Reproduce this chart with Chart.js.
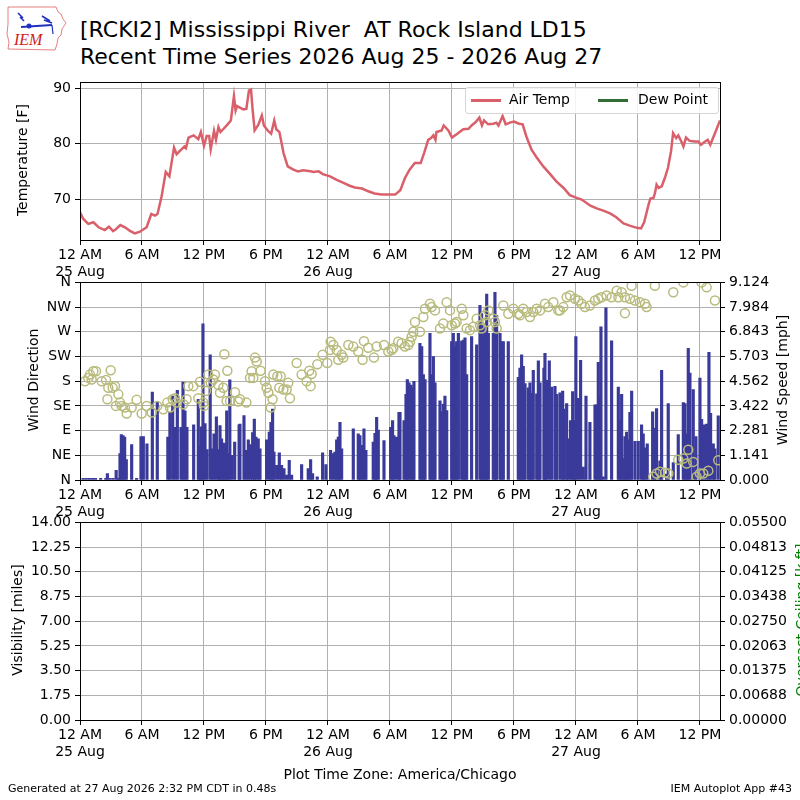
<!DOCTYPE html>
<html>
<head>
<meta charset="utf-8">
<script src="https://cdn.jsdelivr.net/npm/chart.js@4.4.0/dist/chart.umd.min.js"></script>
<style>
  body { margin:0; width:800px; height:800px; overflow:hidden; background:#fff; position:relative;
         font-family:'DejaVu Sans', sans-serif; color:#000; }
  canvas { position:absolute; left:0; }
  .t { position:absolute; white-space:pre; }
  .vt { position:absolute; white-space:nowrap; font-size:14px; transform:translate(-50%,-50%) rotate(-90deg); }
  .legend { position:absolute; left:465px; top:87px; width:252px; height:25px; border:1px solid #d6d6d6;
            border-radius:3px; background:rgba(255,255,255,0.85); font-size:14px; }
  .legend span.ln { position:absolute; top:11px; width:30px; height:3px; }
  .legend span.lb { position:absolute; top:3px; }
</style>
</head>
<body>

<svg style="position:absolute;left:6px;top:4px" width="62" height="48" viewBox="0 0 62 48">
  <path d="M2 3 L50 3 L52 8 L55 10 L57 15 L60 19 L56 25 L55 31 L52 34 L51 40 L49 46 L2 45 L3 38 L1 30 L2 20 Z"
        fill="none" stroke="#e06060" stroke-width="0.8"/>
  <line x1="15" y1="23" x2="46" y2="21" stroke="#2030c0" stroke-width="2"/>
  <path d="M12 9 L17 14 M14 13 L18 17 M36 12 L44 17 M38 16 L46 19" stroke="#2030c0" stroke-width="1.6"/>
  <circle cx="23" cy="22" r="2.5" fill="#2030c0"/>
  <line x1="46" y1="21" x2="47" y2="30" stroke="#2030c0" stroke-width="1.2"/>
  <text x="8" y="41" font-family="Liberation Serif" font-style="italic" font-size="16" fill="#d02020">IEM</text>
</svg>

<div class="t" style="left:80px;top:16px;font-size:22px;line-height:27px">[RCKI2] Mississippi River  AT Rock Island LD15
Recent Time Series 2026 Aug 25 - 2026 Aug 27</div>

<canvas id="tempChart" width="800" height="210" style="top:70px"></canvas>
<canvas id="windChart" width="800" height="250" style="top:270px"></canvas>
<canvas id="visChart" width="800" height="250" style="top:510px"></canvas>

<div class="legend">
  <span class="ln" style="left:5px;background:#d9606a"></span>
  <span class="lb" style="left:43px">Air Temp</span>
  <span class="ln" style="left:132px;background:#336d33"></span>
  <span class="lb" style="left:172px">Dew Point</span>
</div>

<div class="vt" style="left:22px;top:160px">Temperature [F]</div>
<div class="vt" style="left:33px;top:380px">Wind Direction</div>
<div class="vt" style="left:782px;top:380px">Wind Speed [mph]</div>
<div class="vt" style="left:17px;top:620px">Visibility [miles]</div>
<div class="vt" style="left:801px;top:620px;color:#008000">Overcast Ceiling [k ft]</div>

<div class="t" style="left:0;width:800px;text-align:center;top:766px;font-size:14px">Plot Time Zone: America/Chicago</div>
<div class="t" style="left:8px;top:782px;font-size:11px">Generated at 27 Aug 2026 2:32 PM CDT in 0.48s</div>
<div class="t" style="right:8px;top:782px;font-size:11px">IEM Autoplot App #43</div>

<script>
// hours since 25 Aug 12 AM
const xEnd = 61.94;
const xTickHours = [0, 6, 12, 18, 24, 30, 36, 42, 48, 54, 60];
const dayStartHours = [0, 24, 48];
const dayNames = ['25 Aug', '26 Aug', '27 Aug'];

// air temperature [F]
const tempHours = [0,0.32,0.8,1.3,1.8,2.4,2.8,3.2,3.5,3.9,4.35,4.8,5.3,5.8,6.45,6.9,7.25,7.5,7.9,8.3,8.65,9.1,9.35,10.1,10.25,10.5,11.0,11.45,11.7,12.0,12.26,12.5,12.65,12.97,13.16,13.4,13.6,13.9,14.2,14.6,14.9,15.06,15.2,15.8,16.1,16.35,16.55,16.7,16.9,17.25,17.6,17.8,18.2,18.5,18.8,19.0,19.3,19.7,20.1,20.65,21.1,21.6,22.3,22.6,23.1,23.5,24.2,24.8,25.5,26.1,26.6,27.3,27.9,28.5,29.2,29.8,30.5,31.0,31.45,31.9,32.4,32.97,33.3,33.7,33.97,34.2,34.4,34.5,35.0,35.2,35.65,36.0,36.45,37.1,37.6,37.9,38.3,38.65,38.9,39.1,39.5,40.0,40.3,40.5,40.9,41.2,41.6,42.0,42.5,42.84,43.2,43.7,44.2,44.84,45.5,46.1,46.8,47.4,48.07,48.55,49.4,50.0,50.65,51.3,51.9,52.6,53.2,53.9,54.3,54.6,55.0,55.2,55.5,55.65,55.8,56.0,56.3,56.6,56.9,57.2,57.4,57.7,57.9,58.2,58.4,58.65,59.0,59.5,59.84,60.1,60.5,60.75,61.0,61.5,61.94];
const tempValues = [67.6,66.4,65.5,65.8,64.9,64.4,65.0,64.2,64.6,65.3,64.9,64.3,63.8,64.1,64.9,67.3,67.0,67.3,70.5,74.9,74.1,79.3,78.1,79.5,79.2,81.1,81.5,80.8,82.1,79.6,81.4,81.4,79.0,82.3,80.7,83.0,82.1,82.7,83.3,84.2,88.6,86.0,86.8,86.2,86.3,89.6,89.8,86.3,82.4,83.4,85.1,83.3,82.3,81.8,84.2,82.6,82.1,78.3,75.9,75.3,75.0,75.2,75.0,74.9,75.0,74.5,74.1,73.5,72.9,72.4,72.1,71.9,71.4,71.0,70.8,70.8,70.8,71.6,73.8,75.3,76.5,76.5,78.3,80.7,81.0,81.5,80.7,82.1,82.4,83.3,82.4,81.1,81.7,82.6,82.7,83.3,83.9,84.7,83.3,84.2,83.5,83.6,83.8,83.3,85.0,83.5,83.8,84.0,83.6,83.5,81.3,78.9,77.5,75.9,74.5,73.2,72.0,70.7,70.2,69.9,68.8,68.3,67.9,67.4,66.7,65.6,65.2,64.8,64.7,65.8,68.8,70.1,70.2,71.1,72.6,72.0,72.3,73.8,75.6,78.6,81.9,81.0,81.5,80.4,79.5,81.1,80.5,80.4,80.4,79.8,80.4,80.7,79.8,82.1,84.2];
const tempTicks = [70, 80, 90];

// wind speed [mph]
const windHours = [0.3,0.6,0.9,1.2,1.5,2.0,2.5,2.65,2.9,3.2,3.5,3.7,3.87,4.0,4.16,4.32,4.48,5.0,5.48,5.9,6.13,6.48,7.0,7.48,8.5,8.7,8.97,9.2,9.42,9.77,9.97,10.16,10.35,11.0,11.45,11.6,11.74,11.9,12.1,12.3,12.6,12.8,12.97,13.2,13.4,13.55,13.7,13.87,14.0,14.2,14.3,14.5,14.7,14.97,15.4,
  15.48,15.87,16.06,16.29,16.5,16.71,16.87,17.03,17.25,17.42,18.06,18.32,18.48,18.64,18.77,19.03,19.29,19.51,19.74,20.0,20.25,20.48,21.45,22.09,22.32,22.51,22.96,23.48,23.8,24.25,24.45,24.67,24.84,25.0,25.16,25.32,26.45,26.93,27.09,27.29,27.48,27.67,28.38,28.55,28.71,28.87,29.42,30.06,30.25,30.38,30.64,30.87,
  30.97,31.36,31.55,31.68,31.84,32.03,32.2,32.32,32.9,33.07,33.23,33.39,33.87,34.03,34.2,34.36,34.84,35.0,35.16,35.32,35.49,35.97,36.13,36.29,36.45,36.62,36.94,37.1,37.26,37.42,37.9,38.39,38.71,38.87,39.03,39.2,39.36,39.52,40.0,40.16,40.32,40.65,40.81,40.97,41.45,42.42,42.58,42.74,42.9,43.07,43.39,43.55,43.71,43.87,44.2,44.36,44.52,44.9,45.0,45.16,45.42,45.65,45.97,46.13,
  46.45,46.71,46.84,47.1,47.26,47.48,47.68,47.8,47.99,48.22,48.45,48.71,48.97,49.35,49.84,50.0,50.16,50.32,50.42,50.64,50.9,51.45,52.1,52.26,52.42,52.58,52.74,52.9,53.06,53.22,53.39,53.71,54.03,54.35,54.51,54.68,54.9,55.42,55.64,55.8,56.13,56.29,56.77,56.93,57.42,57.9,58.39,58.55,58.71,58.87,59.03,59.35,59.61,60.0,60.16,60.39,60.64,60.87,61.03,61.29,61.45,61.77];
const windSpeeds = [0.08,0.08,0.08,0.08,0.08,0.08,0.08,0.3,0.08,0.08,0.45,0.08,1.22,2.1,2.05,1.98,0.94,1.64,0.08,2.0,2.0,1.67,4.06,3.6,1.98,3.12,3.88,2.43,4.14,2.43,4.52,3.19,2.43,2.55,3.73,1.57,2.46,7.21,2.61,1.4,5.78,1.44,2.13,2.92,1.4,2.51,1.9,1.7,1.67,3.19,1.22,4.62,1.14,1.75,2.55,
  2.58,2.97,1.37,1.86,1.64,2.19,2.81,1.98,1.9,1.44,1.86,2.21,2.66,3.27,1.29,0.68,1.25,0.68,0.53,0.23,0.91,0.23,0.71,0.53,0.94,0.3,0.15,1.25,0.71,1.37,1.22,1.29,1.86,1.98,2.66,1.44,2.36,2.13,2.05,1.6,2.36,1.37,1.75,2.16,2.89,2.31,1.82,2.43,2.74,2.05,1.98,3.12,
  3.12,2.74,3.95,4.64,4.49,4.38,4.26,4.56,6.31,6.16,4.87,4.64,6.77,4.87,5.7,4.49,3.65,3.16,3.5,3.88,3.2,6.39,6.77,6.16,6.39,6.77,6.42,6.46,6.57,4.87,6.62,6.24,8.06,7.68,7.15,6.77,8.58,6.77,6.77,8.67,7.6,6.77,6.39,6.39,6.39,4.74,5.17,5.78,5.25,4.45,4.26,4.49,4.0,5.06,3.98,5.5,4.49,5.17,5.85,4.6,5.5,4.29,4.33,3.95,
  4.03,4.11,3.27,3.53,1.9,2.74,4.08,2.74,6.62,3.77,5.52,0.6,3.88,2.66,3.47,3.47,5.43,3.8,7.07,0.15,7.95,6.43,4.29,2.74,3.95,0.99,2.0,2.21,1.86,3.12,4.11,1.78,1.78,2.55,2.13,1.48,1.67,3.15,2.4,3.3,0.88,5.06,0.27,3.53,0.81,2.1,3.57,3.53,2.13,6.08,4.94,4.18,2.01,4.71,2.8,2.55,2.58,5.9,3.08,1.67,1.44,2.96];
const speedTicks = [0, 1.141, 2.281, 3.422, 4.562, 5.703, 6.843, 7.984, 9.124];

// wind direction [deg]
const dirHours = [0.48,0.8,0.97,1.13,1.29,1.55,2.1,2.52,2.65,2.74,2.97,3.16,3.39,3.48,3.71,3.87,4.03,4.35,4.52,5.0,5.48,5.97,6.45,6.94,7.48,8.06,8.45,8.71,8.97,9.19,9.35,10.0,10.32,10.48,10.97,11.45,11.61,11.94,12.0,12.19,12.42,12.65,12.9,13.06,13.39,13.55,13.87,13.97,14.19,14.26,14.52,15.0,15.32,
  15.48,16.1,16.45,16.61,16.77,16.94,17.1,17.48,17.9,18.06,18.23,18.45,18.64,18.71,19.1,19.29,19.42,19.68,20.0,20.16,20.32,20.97,21.45,21.93,22.19,22.32,22.42,22.97,23.48,23.93,24.19,24.26,24.52,24.84,25.0,25.32,25.48,25.97,26.45,26.93,27.35,27.48,27.9,28.45,28.71,29.42,29.84,30.16,30.32,30.8,
  31.13,31.45,31.77,31.94,32.1,32.26,32.42,32.9,33.23,33.39,33.87,34.03,34.36,34.84,35.16,35.48,35.81,35.97,36.29,36.45,36.94,37.1,37.42,37.74,38.06,38.39,38.71,38.87,39.2,39.36,39.52,40.0,40.16,40.32,40.97,41.45,41.94,42.42,42.58,42.9,43.23,43.55,43.87,44.2,44.52,45.0,45.32,45.81,46.29,
  46.45,46.77,47.1,47.42,47.9,48.23,48.55,48.87,49.35,49.84,50.16,50.48,50.97,51.45,51.94,52.1,52.42,52.74,52.74,53.23,53.39,53.71,54.19,54.68,54.84,55.64,57.42,58.39,60.16,60.65,61.45,
  55.48,55.81,56.13,56.61,56.94,57.9,58.39,58.71,58.87,59.35,59.68,60.0,60.32,60.81,61.77];
const dirDegrees = [180,186,192,183,198,198,180,182,147,168,200,168,171,135,156,141,135,132,121,132,146,121,135,123,135,129,141,132,147,149,141,138,147,171,171,149,179,141,135,162,192,177,183,192,173,159,168,229,144,199,144,160,143,
  147,141,186,198,186,223,216,199,180,168,159,132,147,192,189,168,189,165,165,177,149,213,192,180,199,171,193,211,228,213,237,252,246,237,219,228,223,246,243,234,219,253,241,223,243,246,234,237,240,252,
  249,243,246,252,261,270,288,270,297,312,321,315,309,276,285,324,309,282,285,288,312,300,276,273,279,294,282,276,300,288,309,294,288,276,318,303,312,303,300,312,306,297,306,312,309,321,315,324,309,
  309,315,333,336,330,327,321,315,318,327,330,333,336,333,345,333,342,333,304,330,354,327,324,321,315,354,342,360,360,351,327,
  6,12,15,13,12,37,39,30,55,33,6,12,12,17,36];
const dirTicks = [0, 45, 90, 135, 180, 225, 270, 315, 360];
const dirLabels = ['N', 'NE', 'E', 'SE', 'S', 'SW', 'W', 'NW', 'N'];

// empty panel axes
const visTicks = [0, 1.75, 3.5, 5.25, 7, 8.75, 10.5, 12.25, 14];
const ceilTicks = [0, 0.006875, 0.01375, 0.020625, 0.0275, 0.034375, 0.04125, 0.048125, 0.055];

Chart.defaults.font.family = "'DejaVu Sans', sans-serif";
Chart.defaults.font.size = 14;
Chart.defaults.color = '#000';
Chart.defaults.animation = false;

const GRID = '#b0b0b0';

const frame = {
  id: 'frame',
  afterDraw(chart) {
    const a = chart.chartArea, c = chart.ctx;
    c.save();
    c.strokeStyle = '#000';
    c.lineWidth = 1;
    c.strokeRect(Math.round(a.left) + 0.5, Math.round(a.top) + 0.5,
                 Math.round(a.right - a.left), Math.round(a.bottom - a.top));
    c.restore();
  }
};

function hourLabel(h) {
  const hh = h % 24;
  const base = hh === 0 ? '12 AM' : hh === 6 ? '6 AM' : hh === 12 ? '12 PM' : '6 PM';
  const d = dayStartHours.indexOf(h);
  return d >= 0 ? [base, dayNames[d]] : base;
}

function xScale(z) {
  return {
    type: 'linear', min: 0, max: xEnd, offset: false, z,
    afterBuildTicks: s => { s.ticks = xTickHours.map(v => ({ value: v })); },
    afterFit: s => { s.height = 40; },
    grid: { color: GRID, tickColor: '#000', tickLength: 5, offset: false },
    border: { display: false },
    ticks: { padding: 2, maxRotation: 0, autoSkip: false, callback: v => hourLabel(v) },
  };
}

function leftScale(min, max, ticks, fmt, z) {
  return {
    type: 'linear', position: 'left', min, max, z,
    afterBuildTicks: s => { s.ticks = ticks.map(v => ({ value: v })); },
    afterFit: s => { s.width = 80; },
    grid: { color: GRID, tickColor: '#000', tickLength: 5 },
    border: { display: false },
    ticks: { padding: 4, autoSkip: false, callback: fmt },
  };
}

function rightScale(min, max, ticks, fmt, z) {
  return {
    type: 'linear', position: 'right', min, max, z,
    afterBuildTicks: s => { s.ticks = ticks.map(v => ({ value: v })); },
    afterFit: s => { s.width = 80; },
    grid: { drawOnChartArea: false, tickColor: '#000', tickLength: 5 },
    border: { display: false },
    ticks: { padding: 4, autoSkip: false, callback: fmt },
  };
}

// temperature panel
new Chart(document.getElementById('tempChart'), {
  type: 'line',
  data: {
    datasets: [{
      label: 'Air Temp',
      data: tempHours.map((h, i) => ({ x: h, y: tempValues[i] })),
      borderColor: '#d9606a',
      borderWidth: 2.5,
      pointRadius: 0,
      tension: 0,
    }],
  },
  options: {
    responsive: false,
    layout: { padding: { top: 10, right: 80, left: 0, bottom: 0 } },
    plugins: { legend: { display: false }, tooltip: { enabled: false } },
    scales: {
      x: xScale(0),
      y: leftScale(62.6, 91.07, tempTicks, v => String(v), 0),
    },
  },
  plugins: [frame],
});

// wind panel
new Chart(document.getElementById('windChart'), {
  data: {
    datasets: [
      {
        type: 'scatter',
        label: 'Wind Direction',
        data: dirHours.map((h, i) => ({ x: h, y: dirDegrees[i] })),
        yAxisID: 'y',
        pointStyle: 'circle',
        pointRadius: 4.5,
        borderWidth: 1.5,
        borderColor: '#b9bb7d',
        backgroundColor: 'rgba(0,0,0,0)',
        clip: 0,
        order: 0,
      },
      {
        type: 'bar',
        label: 'Wind Speed',
        data: windHours.map((h, i) => ({ x: h, y: windSpeeds[i] })),
        yAxisID: 'y1',
        backgroundColor: '#3a3a9a',
        barThickness: 2.5,
        order: 1,
      },
    ],
  },
  options: {
    responsive: false,
    layout: { padding: { top: 10, right: 0, left: 0, bottom: 0 } },
    plugins: { legend: { display: false }, tooltip: { enabled: false } },
    scales: {
      x: xScale(1),
      y: leftScale(0, 360, dirTicks, v => dirLabels[dirTicks.indexOf(v)], 1),
      y1: rightScale(0, 9.124, speedTicks, v => v.toFixed(3), 1),
    },
  },
  plugins: [frame],
});

// visibility / ceiling panel (no observations)
new Chart(document.getElementById('visChart'), {
  type: 'line',
  data: {
    datasets: [
      { label: 'Visibility', data: [], yAxisID: 'y' },
      { label: 'Ceiling', data: [], yAxisID: 'y1' },
    ],
  },
  options: {
    responsive: false,
    layout: { padding: { top: 10, right: 0, left: 0, bottom: 0 } },
    plugins: { legend: { display: false }, tooltip: { enabled: false } },
    scales: {
      x: xScale(0),
      y: leftScale(0, 14, visTicks, v => v.toFixed(2), 0),
      y1: rightScale(0, 0.055, ceilTicks, v => (v + 1e-9).toFixed(5), 0),
    },
  },
  plugins: [frame],
});
</script>
</body>
</html>
